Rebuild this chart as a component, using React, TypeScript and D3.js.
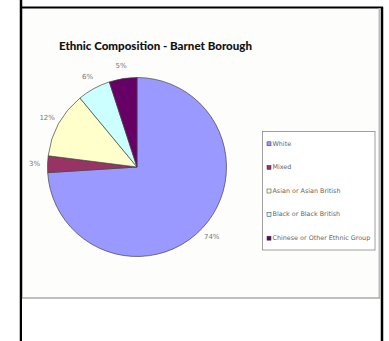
import React from "react";
import * as d3 from "d3";

const categories = ["White", "Mixed", "Asian or Asian British", "Black or Black British", "Chinese or Other Ethnic Group"];
const values = [74, 3, 12, 6, 5];
const labels = ["74%", "3%", "12%", "6%", "5%"];
const colors = ["#9999FF", "#993366", "#FFFFCC", "#CCFFFF", "#660066"];

export default function App() {
  const W = 389, H = 341;
  const cx = 137, cy = 167, r = 89.5;
  const pie = d3.pie<number>().sort(null).value((d) => d)(values);
  const arc = d3.arc<d3.PieArcDatum<number>>().innerRadius(0).outerRadius(r);
  const labelArc = d3.arc<d3.PieArcDatum<number>>().innerRadius(r + 13).outerRadius(r + 13);
  const legendY = d3.scaleBand<string>().domain(categories).range([132, 250]).padding(0);
  return (
    <svg width={W} height={H} style={{ position: "absolute", left: 0, top: 0, background: "#fff" }}>
      <rect x={21} y={7} width={360} height={340} fill="#fdfdfc" />
      <line x1={21} y1={0} x2={21} y2={H} stroke="#000" strokeWidth={2.5} />
      <line x1={20} y1={7.5} x2={383} y2={7.5} stroke="#000" strokeWidth={2} />
      <line x1={382} y1={7} x2={382} y2={H} stroke="#000" strokeWidth={2.5} />
      <line x1={379.5} y1={8} x2={379.5} y2={298} stroke="#bbb" strokeWidth={2} />
      <line x1={22} y1={298} x2={380} y2={298} stroke="#aaa" strokeWidth={1.5} />
      <rect x={22} y={299} width={357} height={42} fill="#fff" />
      <text x={59} y={50} fontFamily="Lato, sans-serif" fontWeight="900" fontSize={10.5} fill="#111" textLength={193} lengthAdjust="spacingAndGlyphs">
        Ethnic Composition - Barnet Borough
      </text>
      <g transform={`translate(${cx},${cy})`}>
        {pie.map((p, i) => (
          <path key={i} d={arc(p) || ""} fill={colors[i]} stroke="#444" strokeWidth={0.7} />
        ))}
        {pie.map((p, i) => {
          const [x, y] = labelArc.centroid(p);
          return (
            <text key={i} x={x} y={y} textAnchor="middle" dominantBaseline="middle" fontFamily="DejaVu Sans, sans-serif" fontSize={7} fill="#777">
              {labels[i]}
            </text>
          );
        })}
      </g>
      <rect x={262.5} y={131.5} width={112.5} height={118.5} fill="#fff" stroke="#888" strokeWidth={0.8} />
      {categories.map((c, i) => {
        const y = (legendY(c) || 0) + legendY.bandwidth() / 2;
        return (
          <g key={c}>
            <rect x={267} y={y - 2} width={4} height={4} fill={colors[i]} stroke="#333" strokeWidth={0.5} />
            <text x={272.5} y={y} dominantBaseline="middle" fontFamily="DejaVu Sans, sans-serif" fontSize={6.4} fill="#666">
              {c}
            </text>
          </g>
        );
      })}
    </svg>
  );
}
